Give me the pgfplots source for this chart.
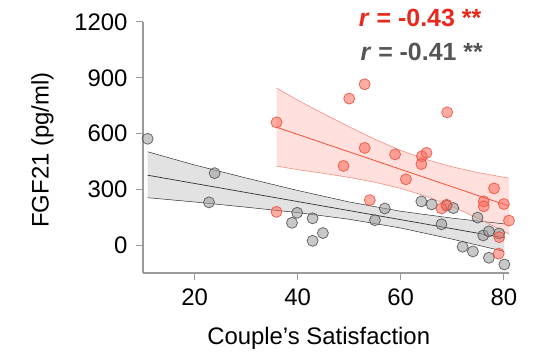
\documentclass[border=0pt]{standalone}
\usepackage{fontspec}
\setmainfont{Liberation Sans}
\usepackage{pgfplots}
\pgfplotsset{compat=1.18}
\definecolor{axgray}{HTML}{9A9A9A}
\definecolor{rtext}{HTML}{E8281C}
\definecolor{gtext}{HTML}{555555}
\definecolor{rband}{HTML}{FFE0DC}
\definecolor{rbedge}{HTML}{F39080}
\definecolor{rline}{HTML}{F0503C}
\definecolor{gband}{HTML}{E2E2E2}
\definecolor{gline}{HTML}{303030}
\definecolor{rfill}{HTML}{FF6A5A}
\definecolor{redge}{HTML}{E8503C}
\definecolor{gfill}{HTML}{9A9A9A}
\definecolor{gedge}{HTML}{4A4A4A}
\begin{document}
\begin{tikzpicture}
\begin{axis}[
  name=ax, at={(0,0)}, anchor=south west,
  scale only axis, width=366bp, height=251bp,
  xmin=10, xmax=81, ymin=-150, ymax=1200,
  axis lines*=left,
  axis line style={draw=axgray, line width=1.2bp},
  xtick={20,40,60,80}, ytick={0,300,600,900,1200},
  tick align=outside, major tick length=7bp,
  tick style={draw=axgray, line width=1bp},
  tick label style={font=\fontsize{24}{28}\selectfont, black},
  xticklabel style={yshift=-5bp},
  yticklabel style={xshift=-5bp},
  /pgf/number format/assume math mode=true,
  /pgf/number format/1000 sep={},
  xlabel={Couple’s Satisfaction},
  ylabel={FGF21 (pg/ml)},
  every axis x label/.style={at={(axis description cs:0.48,-0.26)}, anchor=center, font=\fontsize{24}{28}\selectfont},
  every axis y label/.style={at={(axis description cs:-0.275,0.49)}, rotate=90, anchor=center, font=\fontsize{24}{28}\selectfont},
  clip=false,
]
% gray band
\addplot[fill=gband, draw=none] coordinates {
 (10.9,502) (20,431) (30,361) (40,294) (50,232) (60,182) (70,145) (80.1,114)
 (80.1,-34) (70,32) (60,92) (50,139) (40,175) (30,204) (20,232) (10.9,255)
} -- cycle;
% red band
\addplot[fill=rband, draw=none] coordinates {
 (35.9,845) (40,780) (45,707) (50,636) (55,569) (60,509) (65,460) (70,421) (75,390) (81,360)
 (81,60) (75,144) (70,207) (65,262) (60,305) (55,338) (50,364) (45,386) (40,406) (35.9,425)
} -- cycle;
% gray band edges and fit
\addplot[gline, line width=0.5bp] coordinates {(10.9,502) (20,431) (30,361) (40,294) (50,232) (60,182) (70,145) (80.1,114)};
\addplot[gline, line width=0.5bp] coordinates {(10.9,255) (20,232) (30,204) (40,175) (50,139) (60,92) (70,32) (80.1,-34)};
\addplot[gline, line width=0.7bp] coordinates {(10.9,376) (80.1,39)};
% red band edges and fit
\addplot[rbedge, line width=0.6bp] coordinates {(35.9,845) (40,780) (45,707) (50,636) (55,569) (60,509) (65,460) (70,421) (75,390) (81,360)};
\addplot[rbedge, line width=0.6bp] coordinates {(35.9,425) (40,406) (45,386) (50,364) (55,338) (60,305) (65,262) (70,207) (75,144) (81,60)};
\addplot[rline, line width=0.8bp] coordinates {(35.9,634) (81,210)};
% gray points
\addplot[only marks, mark=*, mark size=5.5bp,
  mark options={fill=gfill, fill opacity=0.55, draw=gedge, draw opacity=0.8, line width=0.8bp}]
 coordinates {
 (10.9,572) (23.9,387) (22.8,230) (39.9,174) (38.9,120) (42.9,144) (44.9,65) (42.9,23)
 (55,134) (56.9,197) (64,235) (66,219) (68.9,212) (70.2,199) (67.9,112) (72,-9)
 (74,-34) (74.9,148) (76,52) (77.1,74) (79.1,63) (77.1,-68) (80.1,-104)
};
% red points
\addplot[only marks, mark=*, mark size=5.5bp,
  mark options={fill=rfill, fill opacity=0.55, draw=redge, draw opacity=0.85, line width=0.8bp}]
 coordinates {
 (35.9,660) (35.9,179) (53,865) (50,788) (69,714) (53,523) (48.9,426) (58.9,488)
 (64.1,478) (65,496) (64,436) (61,354) (54,242) (68.9,217) (67.9,197) (78.1,305)
 (76.1,235) (76.1,209) (80,221) (81,132) (79.1,43) (79,-46)
};
\node[anchor=base east, text=rtext, font=\fontsize{25}{29}\selectfont\bfseries] at (axis cs:76.3,1178) {\textit{r} = -0.43 **};
\node[anchor=base east, text=gtext, font=\fontsize{25}{29}\selectfont\bfseries] at (axis cs:76.6,995) {\textit{r} = -0.41 **};
\end{axis}
\pgfresetboundingbox
\path (-143bp,-89bp) rectangle (391bp,273bp);
\end{tikzpicture}
\end{document}
